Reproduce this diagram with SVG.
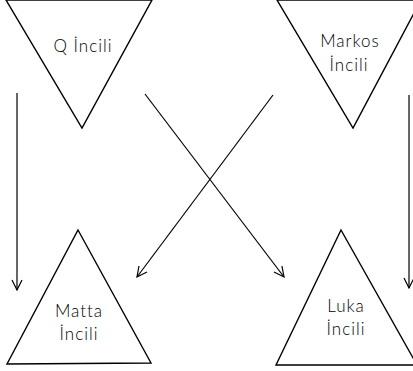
<svg xmlns="http://www.w3.org/2000/svg" width="413" height="371" viewBox="0 0 413 371">
<defs>
<style>
.tri{fill:#fff;stroke:#000;stroke-width:1.4;stroke-linejoin:miter}
.lbl{font-family:Lato,"Open Sans","Liberation Sans",sans-serif;font-size:17px;font-weight:300;letter-spacing:1px;fill:#000;text-anchor:middle}
.con{fill:none;stroke:#000;stroke-width:1.2}
</style>
<marker id="arr" viewBox="0 0 12 12" refX="11" refY="6" markerWidth="12" markerHeight="12" markerUnits="userSpaceOnUse" orient="auto">
<polyline points="1,1 11,6 1,11" fill="none" stroke="#000" stroke-width="1.2"/>
</marker>
</defs>
<rect width="413" height="371" fill="#fff"/>
<g id="connectors">
<line class="con" x1="17" y1="93" x2="17" y2="290" marker-end="url(#arr)"/>
<line class="con" x1="409" y1="95" x2="409" y2="288" marker-end="url(#arr)"/>
<line class="con" x1="145" y1="94" x2="284" y2="277" marker-end="url(#arr)"/>
<line class="con" x1="273" y1="95" x2="137" y2="277" marker-end="url(#arr)"/>
</g>
<g id="q">
<polygon class="tri" points="6,0 152,0 82,128"/>
<text class="lbl" x="83" y="52">Q İncili</text>
</g>
<g id="markos">
<polygon class="tri" points="277,0 421,0 353,128"/>
<text class="lbl" x="350" y="47">Markos</text>
<text class="lbl" x="349" y="71">İncili</text>
</g>
<g id="matta">
<polygon class="tri" points="78,230 151,363 7,364"/>
<text class="lbl" x="79" y="317">Matta</text>
<text class="lbl" x="79" y="340">İncili</text>
</g>
<g id="luka">
<polygon class="tri" points="341,230 417,365 276,365"/>
<text class="lbl" x="346" y="312">Luka</text>
<text class="lbl" x="346" y="335">İncili</text>
</g>
</svg>
